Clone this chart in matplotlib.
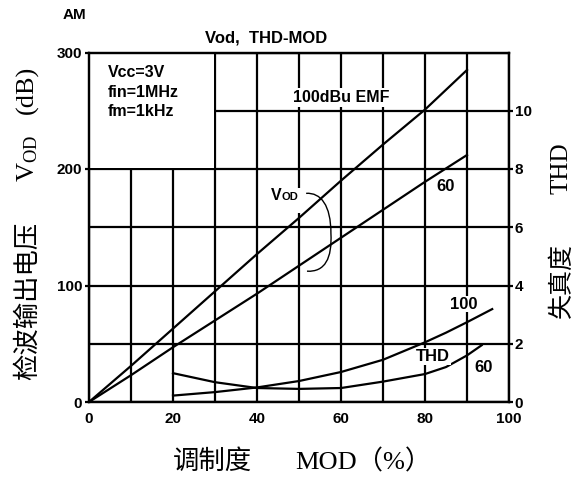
import matplotlib
matplotlib.use("Agg")
import matplotlib.pyplot as plt
from matplotlib.patches import Rectangle, PathPatch
from matplotlib.path import Path

# ---- data ----
mod_vod = [0, 10, 20, 30, 40, 50, 60, 70, 80, 90]
vod_100 = [0, 31, 63, 95, 127, 158, 190, 221, 251, 285]
vod_60 = [0, 23, 47, 70, 93, 117, 141, 165, 189, 212]

mod_thd100 = [20, 30, 40, 50, 60, 70, 80, 85, 90, 96]
thd_100 = [0.22, 0.34, 0.50, 0.72, 1.03, 1.45, 2.05, 2.38, 2.74, 3.19]
mod_thd60 = [20, 30, 40, 50, 60, 70, 80, 85, 90, 93.5]
thd_60 = [0.99, 0.68, 0.48, 0.45, 0.48, 0.70, 0.96, 1.20, 1.60, 1.95]

x_major = [0, 20, 40, 60, 80, 100]
x_minor = [10, 30, 50, 70, 90]
y_major = [0, 100, 200, 300]
y_minor = [50, 150, 250]
thd_ticks = [0, 2, 4, 6, 8, 10]

plt.rcParams['mathtext.fontset'] = 'custom'
plt.rcParams['mathtext.rm'] = 'Liberation Serif'
plt.rcParams['mathtext.it'] = 'Liberation Serif:italic'
plt.rcParams['mathtext.bf'] = 'Liberation Serif:bold'

W, H = 582, 479
fig = plt.figure(figsize=(W / 100, H / 100), dpi=100)
L, R, T, B = 89, 509, 52.5, 402
ax = fig.add_axes([L / W, 1 - B / H, (R - L) / W, (B - T) / H])

LW = 1.6
bold = dict(family='Liberation Sans', weight='bold')
tickfont = matplotlib.font_manager.FontProperties(family='Liberation Sans', weight='bold', size=11)

ax.set_xlim(0, 100)
ax.set_ylim(0, 300)
ax.set_xticks(x_major)
ax.set_xticks(x_minor, minor=True)
ax.set_yticks(y_major)
ax.set_yticks(y_minor, minor=True)
ax.set_axisbelow(True)
ax.grid(which='both', color='black', lw=LW)
ax.tick_params(axis='x', which='both', length=0, pad=7)
ax.tick_params(axis='y', which='major', length=3, width=LW, pad=2)
ax.tick_params(axis='y', which='minor', length=0)
for lab in ax.get_xticklabels() + ax.get_yticklabels():
    lab.set_fontproperties(tickfont)
for s in ax.spines.values():
    s.set_linewidth(LW)

# white info box region
ax.add_patch(Rectangle((0, 200.9), 29.75, 99.1, facecolor='white', edgecolor='none', zorder=1))

ax.plot(mod_vod, vod_100, color='black', lw=LW, zorder=2)
ax.plot(mod_vod, vod_60, color='black', lw=LW, zorder=2)

# texts
ax.text(4.5, 266, 'Vcc=3V\nfin=1MHz\nfm=1kHz', fontsize=11.5, linespacing=1.38,
        va='center', ha='left', zorder=3, **bold)
ax.text(60.1, 261.4, '100dBu EMF', fontsize=11.5, ha='center', va='center', zorder=3,
        bbox=dict(facecolor='white', edgecolor='none', pad=1.5), **bold)
ax.text(85.0, 185, '60', fontsize=12, ha='center', va='center', zorder=3, **bold)
ax.add_patch(Rectangle((42.8, 162), 8.2, 22, facecolor='white', edgecolor='none', zorder=2.5))
ax.text(43.4, 173, 'V', fontsize=11.5, ha='left', va='baseline', zorder=4, **bold)
ax.text(45.9, 173, 'OD', fontsize=8, ha='left', va='baseline', zorder=4, **bold)

# Vod bracket
verts = [(51.7, 179.1), (55.2, 179.9), (57.6, 168.8), (57.6, 144.8),
         (57.9, 123.4), (56.2, 111.4), (51.9, 112.3)]
codes = [Path.MOVETO, Path.CURVE4, Path.CURVE4, Path.CURVE4,
         Path.CURVE4, Path.CURVE4, Path.CURVE4]
ax.add_patch(PathPatch(Path(verts, codes), facecolor='none', edgecolor='black', lw=1.0, zorder=3))

# THD axis
ax2 = ax.twinx()
ax2.set_ylim(0, 12)
ax2.set_yticks(thd_ticks)
ax2.tick_params(axis='y', length=3, width=LW, pad=1)
for lab in ax2.get_yticklabels():
    lab.set_fontproperties(tickfont)
for s in ax2.spines.values():
    s.set_linewidth(LW)
ax2.plot(mod_thd100, thd_100, color='black', lw=LW, zorder=2)
ax2.plot(mod_thd60, thd_60, color='black', lw=LW, zorder=2)
ax2.text(89.3, 3.36, '100', fontsize=12, ha='center', va='center', zorder=3,
         bbox=dict(facecolor='white', edgecolor='none', pad=0.5), **bold)
ax2.text(81.9, 1.56, 'THD', fontsize=12, ha='center', va='center', zorder=3,
         bbox=dict(facecolor='white', edgecolor='none', pad=0.5), **bold)
ax2.text(94.0, 1.18, '60', fontsize=12, ha='center', va='center', zorder=3, **bold)

# titles
fig.text(63 / W, 1 - 15 / H, 'AM', fontsize=11, ha='left', va='center', **bold)
fig.text(266 / W, 1 - 38 / H, 'Vod,  THD-MOD', fontsize=12, ha='center', va='center', **bold)

# axis labels
cjk = ['Noto Sans CJK SC', 'DejaVu Sans']
serif = ['Liberation Serif', 'Noto Sans CJK SC']
fig.text(173 / W, 1 - 461 / H, '调制度', fontsize=19, family=cjk, ha='left', va='center')
fig.text(295 / W, 1 - 462 / H, 'MOD（%）', fontsize=19, family=serif, ha='left', va='center')

fig.text(27 / W, 1 - 301 / H, '检波输出电压', fontsize=19, family=cjk, rotation=90,
         ha='center', va='center')
fig.text(27 / W, 1 - 158 / H, r'$\mathrm{V_{OD}}$', fontsize=19, rotation=90,
         ha='center', va='center')
fig.text(27 / W, 1 - 90 / H, '(dB)', fontsize=19, family=serif, rotation=90,
         ha='center', va='center')

fig.text(562 / W, 1 - 280 / H, '失真度', fontsize=18, family=cjk, rotation=90,
         ha='center', va='center')
fig.text(562 / W, 1 - 168 / H, 'THD', fontsize=18, family=serif, rotation=90,
         ha='center', va='center')

fig.savefig('out.png', dpi=100)
